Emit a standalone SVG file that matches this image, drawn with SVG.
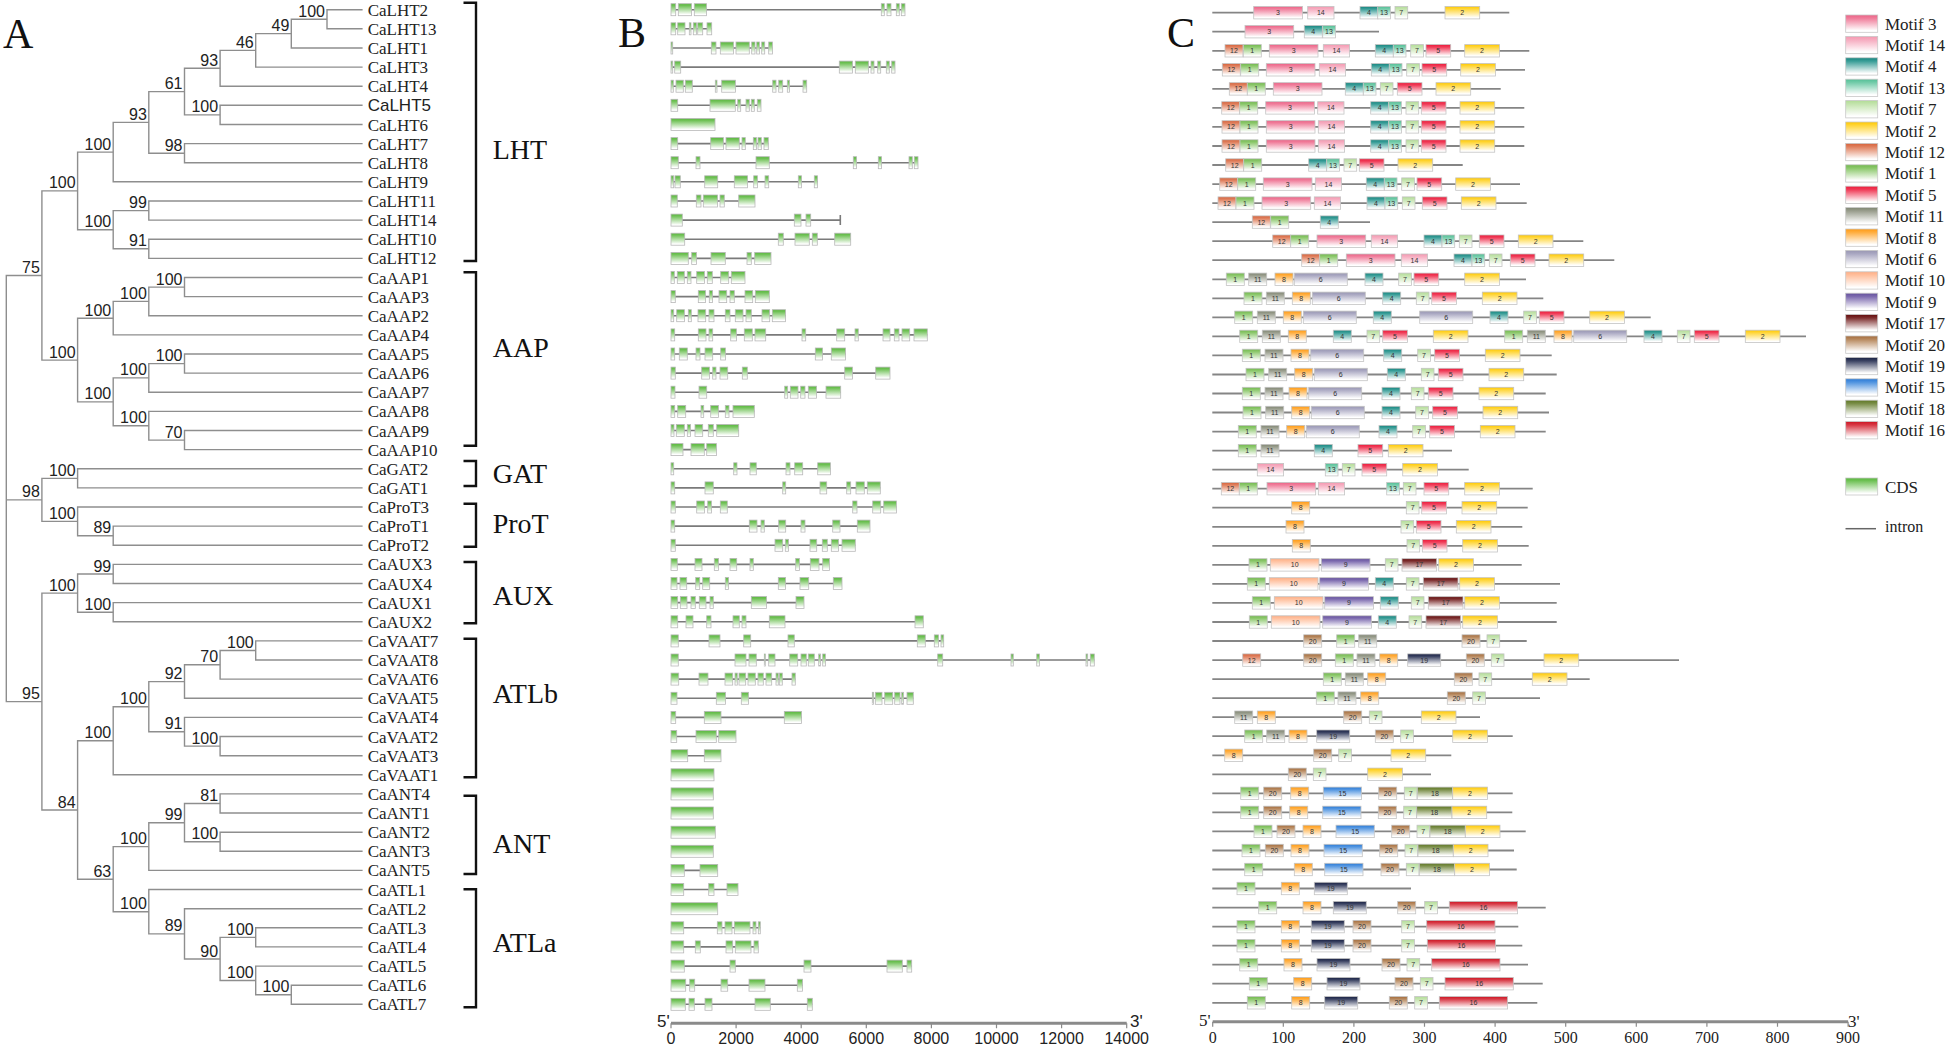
<svg xmlns="http://www.w3.org/2000/svg" width="1946" height="1048" viewBox="0 0 1946 1048">
<defs>
<linearGradient id="gCDS" x1="0" y1="0" x2="0" y2="1"><stop offset="0" stop-color="#5cb840"/><stop offset="0.15" stop-color="#6cc052"/><stop offset="0.9" stop-color="#fff"/></linearGradient>
<linearGradient id="g1" x1="0" y1="0" x2="0" y2="1"><stop offset="0" stop-color="#72b84e"/><stop offset="0.2" stop-color="#8cc86c"/><stop offset="0.9" stop-color="#fff"/></linearGradient>
<linearGradient id="g2" x1="0" y1="0" x2="0" y2="1"><stop offset="0" stop-color="#ffc800"/><stop offset="0.2" stop-color="#ffd63a"/><stop offset="0.9" stop-color="#fff"/></linearGradient>
<linearGradient id="g3" x1="0" y1="0" x2="0" y2="1"><stop offset="0" stop-color="#ec6286"/><stop offset="0.2" stop-color="#f07f9c"/><stop offset="0.9" stop-color="#fff"/></linearGradient>
<linearGradient id="g4" x1="0" y1="0" x2="0" y2="1"><stop offset="0" stop-color="#16857f"/><stop offset="0.2" stop-color="#3a9e98"/><stop offset="0.9" stop-color="#fff"/></linearGradient>
<linearGradient id="g5" x1="0" y1="0" x2="0" y2="1"><stop offset="0" stop-color="#ec1a3a"/><stop offset="0.2" stop-color="#f03c58"/><stop offset="0.9" stop-color="#fff"/></linearGradient>
<linearGradient id="g6" x1="0" y1="0" x2="0" y2="1"><stop offset="0" stop-color="#9896b2"/><stop offset="0.2" stop-color="#aaa8c2"/><stop offset="0.9" stop-color="#fff"/></linearGradient>
<linearGradient id="g7" x1="0" y1="0" x2="0" y2="1"><stop offset="0" stop-color="#b2dc96"/><stop offset="0.2" stop-color="#c4e4ae"/><stop offset="0.9" stop-color="#fff"/></linearGradient>
<linearGradient id="g8" x1="0" y1="0" x2="0" y2="1"><stop offset="0" stop-color="#ff9a12"/><stop offset="0.2" stop-color="#ffae40"/><stop offset="0.9" stop-color="#fff"/></linearGradient>
<linearGradient id="g9" x1="0" y1="0" x2="0" y2="1"><stop offset="0" stop-color="#64509c"/><stop offset="0.2" stop-color="#7e6cb0"/><stop offset="0.9" stop-color="#fff"/></linearGradient>
<linearGradient id="g10" x1="0" y1="0" x2="0" y2="1"><stop offset="0" stop-color="#ffae84"/><stop offset="0.2" stop-color="#ffc09e"/><stop offset="0.9" stop-color="#fff"/></linearGradient>
<linearGradient id="g11" x1="0" y1="0" x2="0" y2="1"><stop offset="0" stop-color="#808672"/><stop offset="0.2" stop-color="#9a9e8e"/><stop offset="0.9" stop-color="#fff"/></linearGradient>
<linearGradient id="g12" x1="0" y1="0" x2="0" y2="1"><stop offset="0" stop-color="#d6623a"/><stop offset="0.2" stop-color="#e0805e"/><stop offset="0.9" stop-color="#fff"/></linearGradient>
<linearGradient id="g13" x1="0" y1="0" x2="0" y2="1"><stop offset="0" stop-color="#52bf96"/><stop offset="0.2" stop-color="#74ccaa"/><stop offset="0.9" stop-color="#fff"/></linearGradient>
<linearGradient id="g14" x1="0" y1="0" x2="0" y2="1"><stop offset="0" stop-color="#f498b0"/><stop offset="0.2" stop-color="#f6acc0"/><stop offset="0.9" stop-color="#fff"/></linearGradient>
<linearGradient id="g15" x1="0" y1="0" x2="0" y2="1"><stop offset="0" stop-color="#2a7ad6"/><stop offset="0.2" stop-color="#5094e0"/><stop offset="0.9" stop-color="#fff"/></linearGradient>
<linearGradient id="g16" x1="0" y1="0" x2="0" y2="1"><stop offset="0" stop-color="#cc1422"/><stop offset="0.2" stop-color="#d83a46"/><stop offset="0.9" stop-color="#fff"/></linearGradient>
<linearGradient id="g17" x1="0" y1="0" x2="0" y2="1"><stop offset="0" stop-color="#620c0c"/><stop offset="0.2" stop-color="#7e3030"/><stop offset="0.9" stop-color="#fff"/></linearGradient>
<linearGradient id="g18" x1="0" y1="0" x2="0" y2="1"><stop offset="0" stop-color="#5e7624"/><stop offset="0.2" stop-color="#7a8e48"/><stop offset="0.9" stop-color="#fff"/></linearGradient>
<linearGradient id="g19" x1="0" y1="0" x2="0" y2="1"><stop offset="0" stop-color="#182042"/><stop offset="0.2" stop-color="#3a4262"/><stop offset="0.9" stop-color="#fff"/></linearGradient>
<linearGradient id="g20" x1="0" y1="0" x2="0" y2="1"><stop offset="0" stop-color="#a46c3c"/><stop offset="0.2" stop-color="#b88a60"/><stop offset="0.9" stop-color="#fff"/></linearGradient>
<style>
.tr{fill:none;stroke:#8e8e8e;stroke-width:1.4}
.bs{font-family:"Liberation Sans",Arial,sans-serif;font-size:16px;text-anchor:end;fill:#222}
.lf{font-family:"Liberation Serif","Times New Roman",serif;font-size:17px;fill:#222}
.lfs{font-family:"Liberation Sans",Arial,sans-serif;font-size:17px;fill:#222}
.cl{font-family:"Liberation Serif","Times New Roman",serif;font-size:28px;fill:#111}
.pl{font-family:"Liberation Serif","Times New Roman",serif;font-size:42px;fill:#111}
.br{fill:none;stroke:#111;stroke-width:2.4}
.in{fill:none;stroke:#7a7a7a;stroke-width:1.6}
.ex rect{y:-6px;height:12px;fill:url(#gCDS);stroke:#b8b8b8;stroke-width:.8}
.ln{fill:none;stroke:#858585;stroke-width:1.8}
.mt rect{y:-6.2px;height:12.4px;stroke:#c4c4c4;stroke-width:.8}
.mt text{font-family:"Liberation Sans",Arial,sans-serif;font-size:7px;text-anchor:middle;dominant-baseline:central;fill:#333}
.m1{width:18px;fill:url(#g1)}.m12{width:18px;fill:url(#g12)}.m11{width:18px;fill:url(#g11)}.m8{width:18px;fill:url(#g8)}.m4{width:18px;fill:url(#g4)}.m20{width:18px;fill:url(#g20)}
.m7{width:12.7px;fill:url(#g7)}.m13{width:12.7px;fill:url(#g13)}
.m3{width:48.7px;fill:url(#g3)}.m14{width:26.3px;fill:url(#g14)}.m5{width:24.7px;fill:url(#g5)}.m2{width:34.7px;fill:url(#g2)}
.m6{width:53px;fill:url(#g6)}.m10{width:48.7px;fill:url(#g10)}.m9{width:48.7px;fill:url(#g9)}.m17{width:34.7px;fill:url(#g17)}
.m19{width:33px;fill:url(#g19)}.m15{width:38.3px;fill:url(#g15)}.m18{width:35.3px;fill:url(#g18)}.m16{width:68.3px;fill:url(#g16)}
.ax{fill:none;stroke:#8a8a8a;stroke-width:3}
.tk{fill:none;stroke:#8a8a8a;stroke-width:1.2}
.axs{font-family:"Liberation Sans",Arial,sans-serif;font-size:16px;text-anchor:middle;fill:#222}
.axt{font-family:"Liberation Serif","Times New Roman",serif;font-size:16px;text-anchor:middle;fill:#222}
.lg{stroke:#c8c8c8;stroke-width:.8}
.lt{font-family:"Liberation Serif","Times New Roman",serif;font-size:17px;fill:#222}
</style>
</defs>
<rect width="1946" height="1048" fill="#fff"/>
<g id="panel-letters">
<text class="pl" x="3" y="48">A</text>
<text class="pl" x="618" y="47">B</text>
<text class="pl" x="1167" y="47">C</text>
</g>
<g id="connectors" class="tr">
<path d="M362.6 9.7H327V28.8H362.6"/>
<path d="M327 19.3H291.3V48H362.6"/>
<path d="M291.3 33.6H255.7V67.1H362.6"/>
<path d="M255.7 50.4H220.1V86.2H362.6"/>
<path d="M362.6 105.3H220.1V124.5H362.6"/>
<path d="M220.1 68.3H184.5V114.9H220.1"/>
<path d="M362.6 143.6H184.5V162.7H362.6"/>
<path d="M184.5 91.6H148.8V153.2H184.5"/>
<path d="M148.8 122.4H113.2V181.8H362.6"/>
<path d="M362.6 201H148.8V220.1H362.6"/>
<path d="M362.6 239.2H148.8V258.4H362.6"/>
<path d="M148.8 210.6H113.2V248.8H148.8"/>
<path d="M113.2 152.1H77.6V229.7H113.2"/>
<path d="M362.6 277.5H184.5V296.6H362.6"/>
<path d="M184.5 287.1H148.8V315.7H362.6"/>
<path d="M148.8 301.4H113.2V334.9H362.6"/>
<path d="M362.6 354H184.5V373.1H362.6"/>
<path d="M184.5 363.6H148.8V392.2H362.6"/>
<path d="M362.6 430.5H184.5V449.6H362.6"/>
<path d="M362.6 411.4H148.8V440.1H184.5"/>
<path d="M148.8 377.9H113.2V425.8H148.8"/>
<path d="M113.2 318.2H77.6V401.9H113.2"/>
<path d="M77.6 190.9H41.9V360.1H77.6"/>
<path d="M362.6 468.8H77.6V487.9H362.6"/>
<path d="M362.6 526.1H113.2V545.3H362.6"/>
<path d="M362.6 507H77.6V535.7H113.2"/>
<path d="M77.6 478.4H41.9V521.4H77.6"/>
<path d="M362.6 564.4H113.2V583.5H362.6"/>
<path d="M362.6 602.6H113.2V621.8H362.6"/>
<path d="M113.2 574H77.6V612.2H113.2"/>
<path d="M362.6 640.9H255.7V660H362.6"/>
<path d="M255.7 650.5H220.1V679.1H362.6"/>
<path d="M220.1 664.8H184.5V698.3H362.6"/>
<path d="M362.6 736.5H220.1V755.7H362.6"/>
<path d="M362.6 717.4H184.5V746.1H220.1"/>
<path d="M184.5 681.6H148.8V731.8H184.5"/>
<path d="M148.8 706.7H113.2V774.8H362.6"/>
<path d="M362.6 793.9H220.1V813H362.6"/>
<path d="M362.6 832.2H220.1V851.3H362.6"/>
<path d="M220.1 803.5H184.5V841.8H220.1"/>
<path d="M184.5 822.7H148.8V870.4H362.6"/>
<path d="M362.6 927.8H255.7V946.9H362.6"/>
<path d="M362.6 985.2H291.3V1004.3H362.6"/>
<path d="M362.6 966.1H255.7V994.8H291.3"/>
<path d="M255.7 937.4H220.1V980.5H255.7"/>
<path d="M362.6 908.7H184.5V959H220.1"/>
<path d="M362.6 889.5H148.8V933.9H184.5"/>
<path d="M148.8 846.6H113.2V911.7H148.8"/>
<path d="M113.2 740.8H77.6V879.2H113.2"/>
<path d="M77.6 593.1H41.9V810H77.6"/>
<path d="M41.9 275.5H6.3V701.6H41.9M6.3 499.9H41.9"/>
</g>
<g id="bootstrap" class="bs">
<text x="325" y="16.8">100</text><text x="289.3" y="31.1">49</text><text x="253.7" y="47.9">46</text><text x="218.1" y="65.8">93</text>
<text x="218.1" y="112.4">100</text><text x="182.5" y="89.1">61</text><text x="182.5" y="150.7">98</text><text x="146.8" y="119.9">93</text>
<text x="111.2" y="149.6">100</text><text x="146.8" y="208.1">99</text><text x="146.8" y="246.3">91</text><text x="111.2" y="227.2">100</text>
<text x="75.6" y="188.4">100</text><text x="182.5" y="284.6">100</text><text x="146.8" y="298.9">100</text><text x="111.2" y="315.7">100</text>
<text x="182.5" y="361.1">100</text><text x="146.8" y="375.4">100</text><text x="182.5" y="437.6">70</text><text x="146.8" y="423.3">100</text>
<text x="111.2" y="399.4">100</text><text x="75.6" y="357.6">100</text><text x="39.9" y="273">75</text><text x="75.6" y="475.9">100</text>
<text x="111.2" y="533.2">89</text><text x="75.6" y="518.9">100</text><text x="39.9" y="497.4">98</text><text x="111.2" y="571.5">99</text>
<text x="111.2" y="609.7">100</text><text x="75.6" y="590.6">100</text><text x="253.7" y="648">100</text><text x="218.1" y="662.3">70</text>
<text x="182.5" y="679.1">92</text><text x="218.1" y="743.6">100</text><text x="182.5" y="729.3">91</text><text x="146.8" y="704.2">100</text>
<text x="111.2" y="738.3">100</text><text x="218.1" y="801">81</text><text x="218.1" y="839.3">100</text><text x="182.5" y="820.2">99</text>
<text x="146.8" y="844.1">100</text><text x="253.7" y="934.9">100</text><text x="289.3" y="992.3">100</text><text x="253.7" y="978">100</text>
<text x="218.1" y="956.5">90</text><text x="182.5" y="931.4">89</text><text x="146.8" y="909.2">100</text><text x="111.2" y="876.7">63</text>
<text x="75.6" y="807.5">84</text><text x="39.9" y="699.1">95</text>
</g>
<g id="leaves" class="lf">
<text x="367.7" y="15.7">CaLHT2</text><text x="367.7" y="34.8">CaLHT13</text><text x="367.7" y="54">CaLHT1</text><text x="367.7" y="73.1">CaLHT3</text>
<text x="367.7" y="92.2">CaLHT4</text><text class="lfs" x="367.7" y="111.3">CaLHT5</text><text x="367.7" y="130.5">CaLHT6</text><text x="367.7" y="149.6">CaLHT7</text>
<text x="367.7" y="168.7">CaLHT8</text><text x="367.7" y="187.8">CaLHT9</text><text x="367.7" y="207">CaLHT11</text><text x="367.7" y="226.1">CaLHT14</text>
<text x="367.7" y="245.2">CaLHT10</text><text x="367.7" y="264.4">CaLHT12</text><text x="367.7" y="283.5">CaAAP1</text><text x="367.7" y="302.6">CaAAP3</text>
<text x="367.7" y="321.7">CaAAP2</text><text x="367.7" y="340.9">CaAAP4</text><text x="367.7" y="360">CaAAP5</text><text x="367.7" y="379.1">CaAAP6</text>
<text x="367.7" y="398.2">CaAAP7</text><text x="367.7" y="417.4">CaAAP8</text><text x="367.7" y="436.5">CaAAP9</text><text x="367.7" y="455.6">CaAAP10</text>
<text x="367.7" y="474.8">CaGAT2</text><text x="367.7" y="493.9">CaGAT1</text><text x="367.7" y="513">CaProT3</text><text x="367.7" y="532.1">CaProT1</text>
<text x="367.7" y="551.3">CaProT2</text><text x="367.7" y="570.4">CaAUX3</text><text x="367.7" y="589.5">CaAUX4</text><text x="367.7" y="608.6">CaAUX1</text>
<text x="367.7" y="627.8">CaAUX2</text><text x="367.7" y="646.9">CaVAAT7</text><text x="367.7" y="666">CaVAAT8</text><text x="367.7" y="685.1">CaVAAT6</text>
<text x="367.7" y="704.3">CaVAAT5</text><text x="367.7" y="723.4">CaVAAT4</text><text x="367.7" y="742.5">CaVAAT2</text><text x="367.7" y="761.7">CaVAAT3</text>
<text x="367.7" y="780.8">CaVAAT1</text><text x="367.7" y="799.9">CaANT4</text><text x="367.7" y="819">CaANT1</text><text x="367.7" y="838.2">CaANT2</text>
<text x="367.7" y="857.3">CaANT3</text><text x="367.7" y="876.4">CaANT5</text><text x="367.7" y="895.5">CaATL1</text><text x="367.7" y="914.7">CaATL2</text>
<text x="367.7" y="933.8">CaATL3</text><text x="367.7" y="952.9">CaATL4</text><text x="367.7" y="972.1">CaATL5</text><text x="367.7" y="991.2">CaATL6</text>
<text x="367.7" y="1010.3">CaATL7</text>
</g>
<g id="clades">
<path class="br" d="M463.5 2.7H476V261H463.5"/>
<path class="br" d="M463.5 272.3H476V445.7H463.5"/>
<path class="br" d="M463.5 461H476V486H463.5"/>
<path class="br" d="M463.5 503.7H476V546.7H463.5"/>
<path class="br" d="M463.5 562H476V623.3H463.5"/>
<path class="br" d="M463.5 638.7H476V777.3H463.5"/>
<path class="br" d="M463.5 795.7H476V874H463.5"/>
<path class="br" d="M463.5 889.3H476V1007.3H463.5"/>
<text class="cl" x="492.7" y="159.3">LHT</text>
<text class="cl" x="492.7" y="356.7">AAP</text>
<text class="cl" x="492.7" y="483.3">GAT</text>
<text class="cl" x="492.7" y="532.7">ProT</text>
<text class="cl" x="492.7" y="605">AUX</text>
<text class="cl" x="492.7" y="703">ATLb</text>
<text class="cl" x="492.7" y="853.3">ANT</text>
<text class="cl" x="492.7" y="951.7">ATLa</text>
</g>
<g id="panel-B" class="ex">
<g transform="translate(0,9.7)"><path class="in" d="M671 0H905"/><rect x="671" width="4.7"/><rect x="678.3" width="13.3"/><rect x="694.3" width="12.3"/><rect x="881.3" width="3"/><rect x="887" width="4"/><rect x="896.3" width="3"/><rect x="901.3" width="3.7"/></g>
<g transform="translate(0,28.8)"><path class="in" d="M671 0H711.7"/><rect x="671" width="4.7"/><rect x="677.7" width="7.3"/><rect x="689.3" width="1.7"/><rect x="693.3" width="3.3"/><rect x="697.7" width="5"/><rect x="707" width="4.7"/></g>
<g transform="translate(0,48)"><path class="in" d="M671 0H772.3"/><rect x="671" width="1.7"/><rect x="711.3" width="4.7"/><rect x="720.3" width="13.3"/><rect x="736" width="13.3"/><rect x="751.7" width="3.3"/><rect x="756.7" width="2.7"/><rect x="761.7" width="3"/><rect x="768.7" width="3.7"/></g>
<g transform="translate(0,67.1)"><path class="in" d="M671 0H895"/><rect x="671" width="1.7"/><rect x="674.7" width="6"/><rect x="839.3" width="13.3"/><rect x="855.3" width="13.3"/><rect x="871" width="3"/><rect x="877.7" width="3"/><rect x="886.3" width="3"/><rect x="891.7" width="3.3"/></g>
<g transform="translate(0,86.2)"><path class="in" d="M671 0H806.7"/><rect x="671" width="2.3"/><rect x="676" width="7.3"/><rect x="685.3" width="7"/><rect x="715.3" width="1.7"/><rect x="721.7" width="13.7"/><rect x="772.7" width="3.3"/><rect x="778.7" width="4"/><rect x="787.3" width="2.3"/><rect x="803" width="3.7"/></g>
<g transform="translate(0,105.3)"><path class="in" d="M671 0H761"/><rect x="671" width="6.7"/><rect x="710" width="25.3"/><rect x="737.7" width="3"/><rect x="746" width="3.3"/><rect x="751.3" width="3"/><rect x="757.3" width="3.7"/></g>
<g transform="translate(0,124.5)"><rect x="671" width="44"/></g>
<g transform="translate(0,143.6)"><path class="in" d="M671 0H768.3"/><rect x="671" width="6.7"/><rect x="710.7" width="12.7"/><rect x="726" width="13.3"/><rect x="742" width="3.3"/><rect x="753.3" width="3.3"/><rect x="758" width="3.3"/><rect x="764" width="4.3"/></g>
<g transform="translate(0,162.7)"><path class="in" d="M671 0H918"/><rect x="671" width="7.3"/><rect x="696" width="4"/><rect x="756" width="13.3"/><rect x="853.3" width="3.3"/><rect x="878.3" width="3.3"/><rect x="909" width="3.3"/><rect x="914.3" width="3.7"/></g>
<g transform="translate(0,181.8)"><path class="in" d="M671 0H817.7"/><rect x="671" width="2.7"/><rect x="675" width="5.3"/><rect x="704.7" width="13"/><rect x="734.3" width="13.3"/><rect x="753.7" width="3.7"/><rect x="765" width="3.7"/><rect x="798.3" width="3.3"/><rect x="814.3" width="3.3"/></g>
<g transform="translate(0,201)"><path class="in" d="M671 0H755"/><rect x="671" width="6.3"/><rect x="696.3" width="4.7"/><rect x="703.3" width="14.3"/><rect x="720" width="4.3"/><rect x="738.7" width="16.3"/></g>
<g transform="translate(0,220.1)"><path class="in" d="M671 0H840.3M840.3 -5V5"/><rect x="671" width="11.3"/><rect x="794.3" width="6.7"/><rect x="806" width="4.7"/></g>
<g transform="translate(0,239.2)"><path class="in" d="M671 0H850.7"/><rect x="671" width="13.7"/><rect x="778.3" width="5"/><rect x="795" width="14.3"/><rect x="812.3" width="5"/><rect x="834.7" width="16"/></g>
<g transform="translate(0,258.4)"><path class="in" d="M671 0H771"/><rect x="671" width="17.3"/><rect x="691.7" width="4.7"/><rect x="711" width="14.3"/><rect x="747" width="4.3"/><rect x="754.7" width="16.3"/></g>
<g transform="translate(0,277.5)"><path class="in" d="M671 0H745"/><rect x="671" width="3.3"/><rect x="677.3" width="7"/><rect x="687.3" width="3.7"/><rect x="696.7" width="7.7"/><rect x="707.3" width="5"/><rect x="720.7" width="8"/><rect x="731.3" width="13.7"/></g>
<g transform="translate(0,296.6)"><path class="in" d="M671 0H769.3"/><rect x="671" width="4.3"/><rect x="698.3" width="7.3"/><rect x="709.3" width="3.3"/><rect x="719" width="7.7"/><rect x="730" width="4.3"/><rect x="745" width="7.7"/><rect x="755.3" width="14"/></g>
<g transform="translate(0,315.7)"><path class="in" d="M671 0H785.7"/><rect x="671" width="2.7"/><rect x="676.7" width="7.7"/><rect x="688.3" width="3"/><rect x="698" width="7.7"/><rect x="709" width="5"/><rect x="725.3" width="4.7"/><rect x="735.3" width="7.7"/><rect x="746" width="5.3"/><rect x="762" width="7.7"/><rect x="772.3" width="13.3"/></g>
<g transform="translate(0,334.9)"><path class="in" d="M671 0H927.3"/><rect x="671" width="3.7"/><rect x="698.3" width="7.7"/><rect x="709" width="3.7"/><rect x="730.7" width="5.7"/><rect x="744.3" width="8"/><rect x="755" width="10.7"/><rect x="802" width="3.7"/><rect x="836.7" width="8"/><rect x="855" width="3.3"/><rect x="883" width="7"/><rect x="894.3" width="4.7"/><rect x="902" width="7.7"/><rect x="914" width="13.3"/></g>
<g transform="translate(0,354)"><path class="in" d="M671 0H845.7"/><rect x="671" width="3.7"/><rect x="679.3" width="8"/><rect x="696" width="4"/><rect x="705" width="7.7"/><rect x="720.7" width="4.7"/><rect x="815.3" width="7.3"/><rect x="831.3" width="14.3"/></g>
<g transform="translate(0,373.1)"><path class="in" d="M671 0H890"/><rect x="671" width="4.3"/><rect x="701.7" width="7.7"/><rect x="712.7" width="3.3"/><rect x="720" width="7.7"/><rect x="742.3" width="5"/><rect x="844.7" width="7.7"/><rect x="875.7" width="14.3"/></g>
<g transform="translate(0,392.2)"><path class="in" d="M671 0H840.7"/><rect x="671" width="4"/><rect x="699" width="7.7"/><rect x="784.7" width="3"/><rect x="790.3" width="7.7"/><rect x="800.7" width="4.3"/><rect x="808.3" width="8.3"/><rect x="826" width="14.7"/></g>
<g transform="translate(0,411.4)"><path class="in" d="M671 0H754.3"/><rect x="671" width="3.7"/><rect x="677.7" width="8"/><rect x="701" width="2.7"/><rect x="710.7" width="7.7"/><rect x="725.3" width="3.7"/><rect x="733" width="21.3"/></g>
<g transform="translate(0,430.5)"><path class="in" d="M671 0H738.7"/><rect x="671" width="3"/><rect x="676.3" width="8"/><rect x="687.3" width="3.3"/><rect x="695" width="7.7"/><rect x="708.3" width="5"/><rect x="716.7" width="22"/></g>
<g transform="translate(0,449.6)"><path class="in" d="M671 0H716.3"/><rect x="671" width="12"/><rect x="691" width="13.3"/><rect x="706.7" width="9.7"/></g>
<g transform="translate(0,468.8)"><path class="in" d="M671 0H830.3"/><rect x="671" width="2.7"/><rect x="733.7" width="3.3"/><rect x="750" width="6.3"/><rect x="786" width="4"/><rect x="794.7" width="8"/><rect x="817.7" width="12.7"/></g>
<g transform="translate(0,487.9)"><path class="in" d="M671 0H880.3"/><rect x="671" width="3.7"/><rect x="705" width="8.3"/><rect x="782.7" width="3"/><rect x="820" width="6.7"/><rect x="846.7" width="4"/><rect x="856" width="8.3"/><rect x="867.3" width="13"/></g>
<g transform="translate(0,507)"><path class="in" d="M671 0H896.3"/><rect x="671" width="4.3"/><rect x="696.7" width="7.7"/><rect x="707.7" width="3.7"/><rect x="720.3" width="7"/><rect x="852.7" width="4.3"/><rect x="872.7" width="8"/><rect x="883.7" width="12.7"/></g>
<g transform="translate(0,526.1)"><path class="in" d="M671 0H870"/><rect x="671" width="3.7"/><rect x="749.3" width="7.7"/><rect x="761" width="3.3"/><rect x="778.7" width="7"/><rect x="801" width="4"/><rect x="832.7" width="7.3"/><rect x="857.3" width="12.7"/></g>
<g transform="translate(0,545.3)"><path class="in" d="M671 0H855.3"/><rect x="671" width="4.3"/><rect x="775" width="7.7"/><rect x="785.3" width="3.3"/><rect x="810" width="6.7"/><rect x="822.3" width="5"/><rect x="831.3" width="7.3"/><rect x="842" width="13.3"/></g>
<g transform="translate(0,564.4)"><path class="in" d="M671 0H829.3"/><rect x="671" width="6.3"/><rect x="695" width="7"/><rect x="714.3" width="4.3"/><rect x="730" width="6.7"/><rect x="750" width="3.3"/><rect x="795.7" width="3.7"/><rect x="810.3" width="8.7"/><rect x="822.7" width="6.7"/></g>
<g transform="translate(0,583.5)"><path class="in" d="M671 0H842"/><rect x="671" width="6"/><rect x="680" width="6.7"/><rect x="695.7" width="4"/><rect x="702.7" width="7"/><rect x="725.3" width="3.3"/><rect x="778.3" width="7.3"/><rect x="800" width="8.7"/><rect x="833.3" width="8.7"/></g>
<g transform="translate(0,602.6)"><path class="in" d="M671 0H804"/><rect x="671" width="6.7"/><rect x="680.3" width="6.7"/><rect x="691" width="4.3"/><rect x="699.3" width="6.7"/><rect x="710" width="3.3"/><rect x="751.3" width="15.3"/><rect x="796" width="8"/></g>
<g transform="translate(0,621.8)"><path class="in" d="M671 0H923.3"/><rect x="671" width="6.7"/><rect x="686" width="7"/><rect x="706.7" width="4.3"/><rect x="733" width="6.3"/><rect x="742" width="4"/><rect x="769.3" width="15.7"/><rect x="915" width="8.3"/></g>
<g transform="translate(0,640.9)"><path class="in" d="M671 0H943.7"/><rect x="671" width="7.3"/><rect x="709" width="11"/><rect x="743.7" width="7"/><rect x="788" width="6.3"/><rect x="917.3" width="8"/><rect x="934.3" width="4.3"/><rect x="941" width="2.7"/></g>
<g transform="translate(0,660)"><path class="in" d="M671 0H1094.3"/><rect x="671" width="7.3"/><rect x="735" width="11"/><rect x="749" width="7.3"/><rect x="764.3" width="1"/><rect x="768.7" width="6.3"/><rect x="789.7" width="8"/><rect x="801" width="5.3"/><rect x="808.3" width="6"/><rect x="818.7" width="1.7"/><rect x="822.7" width="2.7"/><rect x="937.7" width="5"/><rect x="1011" width="2.3"/><rect x="1036.7" width="2.7"/><rect x="1086" width="1.7"/><rect x="1090.3" width="4"/></g>
<g transform="translate(0,679.1)"><path class="in" d="M671 0H795.3"/><rect x="671" width="7.7"/><rect x="699" width="9"/><rect x="725" width="7.7"/><rect x="735" width="2.3"/><rect x="739" width="6.7"/><rect x="748" width="7.3"/><rect x="758" width="5.3"/><rect x="766" width="5.7"/><rect x="776" width="2.3"/><rect x="779.3" width="3"/><rect x="792" width="3.3"/></g>
<g transform="translate(0,698.3)"><path class="in" d="M671 0H913.3"/><rect x="671" width="6"/><rect x="716.3" width="9.3"/><rect x="741.3" width="7.3"/><rect x="872.3" width="1.3"/><rect x="875.3" width="6.7"/><rect x="884.7" width="8"/><rect x="894.7" width="5.3"/><rect x="901.7" width="1.7"/><rect x="907" width="6.3"/></g>
<g transform="translate(0,717.4)"><path class="in" d="M671 0H801.7"/><rect x="671" width="4.7"/><rect x="704.3" width="16.7"/><rect x="784.3" width="17.3"/></g>
<g transform="translate(0,736.5)"><path class="in" d="M671 0H736"/><rect x="671" width="5.7"/><rect x="696" width="20.3"/><rect x="718.7" width="17.3"/></g>
<g transform="translate(0,755.7)"><path class="in" d="M671 0H721"/><rect x="671" width="16.7"/><rect x="704.3" width="16.7"/></g>
<g transform="translate(0,774.8)"><rect x="671" width="43"/></g>
<g transform="translate(0,793.9)"><rect x="671" width="42.3"/></g>
<g transform="translate(0,813)"><rect x="671" width="42.3"/></g>
<g transform="translate(0,832.2)"><rect x="671" width="44.3"/></g>
<g transform="translate(0,851.3)"><rect x="671" width="42.3"/></g>
<g transform="translate(0,870.4)"><path class="in" d="M671 0H717.7"/><rect x="671" width="13.3"/><rect x="700" width="17.7"/></g>
<g transform="translate(0,889.5)"><path class="in" d="M671 0H738"/><rect x="671" width="12.7"/><rect x="708.7" width="5.3"/><rect x="727" width="11"/></g>
<g transform="translate(0,908.7)"><rect x="671" width="46.7"/></g>
<g transform="translate(0,927.8)"><path class="in" d="M671 0H760.3"/><rect x="671" width="12.7"/><rect x="717.3" width="4.7"/><rect x="725" width="7"/><rect x="734.3" width="15.7"/><rect x="753" width="3"/><rect x="758.3" width="2"/></g>
<g transform="translate(0,946.9)"><path class="in" d="M671 0H758.3"/><rect x="671" width="12.7"/><rect x="695.3" width="5"/><rect x="726" width="6.7"/><rect x="735.3" width="15.7"/><rect x="754" width="4.3"/></g>
<g transform="translate(0,966.1)"><path class="in" d="M671 0H911.7"/><rect x="671" width="13.3"/><rect x="730" width="5.3"/><rect x="804" width="7"/><rect x="887" width="15.3"/><rect x="907" width="4.7"/></g>
<g transform="translate(0,985.2)"><path class="in" d="M671 0H802.7"/><rect x="671" width="14.7"/><rect x="689.7" width="5"/><rect x="721" width="6.7"/><rect x="749" width="16"/><rect x="797.3" width="5.3"/></g>
<g transform="translate(0,1004.3)"><path class="in" d="M671 0H812.3"/><rect x="671" width="14.3"/><rect x="689" width="5.3"/><rect x="705" width="7"/><rect x="755" width="15.3"/><rect x="807.3" width="5"/></g>
</g>
<g id="axis-B">
<path class="ax" d="M671 1023.3H1126.7"/>
<path class="tk" d="M671 1023.3v5M736.1 1023.3v5M801.2 1023.3v5M866.3 1023.3v5M931.4 1023.3v5M996.5 1023.3v5M1061.6 1023.3v5M1126.7 1023.3v5"/>
<g class="axs"><text x="671" y="1044">0</text><text x="736.1" y="1044">2000</text><text x="801.2" y="1044">4000</text><text x="866.3" y="1044">6000</text><text x="931.4" y="1044">8000</text><text x="996.5" y="1044">10000</text><text x="1061.6" y="1044">12000</text><text x="1126.7" y="1044">14000</text></g>
<text x="657" y="1027" font-family="Liberation Sans, Arial, sans-serif" font-size="17" fill="#222">5'</text>
<text x="1130" y="1027" font-family="Liberation Sans, Arial, sans-serif" font-size="17" fill="#222">3'</text>
</g>
<g id="panel-C" class="mt">
<g transform="translate(0,12.7)"><path class="ln" d="M1212.3 0H1509.3"/><rect class="m3" x="1253.7"/><text x="1278">3</text><rect class="m14" x="1307.7"/><text x="1320.8">14</text><rect class="m4" x="1360"/><text x="1369">4</text><rect class="m13" x="1377.7"/><text x="1384">13</text><rect class="m7" x="1395"/><text x="1401.3">7</text><rect class="m2" x="1445"/><text x="1462.3">2</text></g>
<g transform="translate(0,31.7)"><path class="ln" d="M1212.3 0H1379"/><rect class="m3" x="1245"/><text x="1269.3">3</text><rect class="m4" x="1304.3"/><text x="1313.3">4</text><rect class="m13" x="1322.7"/><text x="1329">13</text></g>
<g transform="translate(0,50.8)"><path class="ln" d="M1212.3 0H1529.3"/><rect class="m12" x="1225"/><text x="1234">12</text><rect class="m1" x="1243.3"/><text x="1252.3">1</text><rect class="m3" x="1269.3"/><text x="1293.7">3</text><rect class="m14" x="1323.3"/><text x="1336.5">14</text><rect class="m4" x="1375.3"/><text x="1384.3">4</text><rect class="m13" x="1393.3"/><text x="1399.7">13</text><rect class="m7" x="1410.7"/><text x="1417">7</text><rect class="m5" x="1426"/><text x="1438.3">5</text><rect class="m2" x="1464.7"/><text x="1482">2</text></g>
<g transform="translate(0,69.8)"><path class="ln" d="M1212.3 0H1525"/><rect class="m12" x="1222.3"/><text x="1231.3">12</text><rect class="m1" x="1240.7"/><text x="1249.7">1</text><rect class="m3" x="1266.3"/><text x="1290.7">3</text><rect class="m14" x="1319.3"/><text x="1332.5">14</text><rect class="m4" x="1371.3"/><text x="1380.3">4</text><rect class="m13" x="1389.3"/><text x="1395.7">13</text><rect class="m7" x="1406.7"/><text x="1413">7</text><rect class="m5" x="1422"/><text x="1434.3">5</text><rect class="m2" x="1460.7"/><text x="1478">2</text></g>
<g transform="translate(0,88.9)"><path class="ln" d="M1212.3 0H1500.7"/><rect class="m12" x="1229.3"/><text x="1238.3">12</text><rect class="m1" x="1247.3"/><text x="1256.3">1</text><rect class="m3" x="1273.3"/><text x="1297.7">3</text><rect class="m4" x="1345.3"/><text x="1354.3">4</text><rect class="m13" x="1363.3"/><text x="1369.7">13</text><rect class="m7" x="1380.3"/><text x="1386.7">7</text><rect class="m5" x="1397.3"/><text x="1409.7">5</text><rect class="m2" x="1436"/><text x="1453.3">2</text></g>
<g transform="translate(0,107.9)"><path class="ln" d="M1212.3 0H1524.3"/><rect class="m12" x="1221.7"/><text x="1230.7">12</text><rect class="m1" x="1239.7"/><text x="1248.7">1</text><rect class="m3" x="1265.7"/><text x="1290">3</text><rect class="m14" x="1317.7"/><text x="1330.8">14</text><rect class="m4" x="1370.7"/><text x="1379.7">4</text><rect class="m13" x="1388.7"/><text x="1395">13</text><rect class="m7" x="1406"/><text x="1412.3">7</text><rect class="m5" x="1421.3"/><text x="1433.7">5</text><rect class="m2" x="1460"/><text x="1477.3">2</text></g>
<g transform="translate(0,126.9)"><path class="ln" d="M1212.3 0H1524.3"/><rect class="m12" x="1222"/><text x="1231">12</text><rect class="m1" x="1240"/><text x="1249">1</text><rect class="m3" x="1266.3"/><text x="1290.7">3</text><rect class="m14" x="1318.3"/><text x="1331.5">14</text><rect class="m4" x="1370.7"/><text x="1379.7">4</text><rect class="m13" x="1388.7"/><text x="1395">13</text><rect class="m7" x="1406"/><text x="1412.3">7</text><rect class="m5" x="1421.3"/><text x="1433.7">5</text><rect class="m2" x="1460"/><text x="1477.3">2</text></g>
<g transform="translate(0,146)"><path class="ln" d="M1212.3 0H1524.3"/><rect class="m12" x="1222"/><text x="1231">12</text><rect class="m1" x="1240"/><text x="1249">1</text><rect class="m3" x="1266.3"/><text x="1290.7">3</text><rect class="m14" x="1318.3"/><text x="1331.5">14</text><rect class="m4" x="1370.7"/><text x="1379.7">4</text><rect class="m13" x="1388.7"/><text x="1395">13</text><rect class="m7" x="1406"/><text x="1412.3">7</text><rect class="m5" x="1421.3"/><text x="1433.7">5</text><rect class="m2" x="1460"/><text x="1477.3">2</text></g>
<g transform="translate(0,165)"><path class="ln" d="M1212.3 0H1462.7"/><rect class="m12" x="1225.7"/><text x="1234.7">12</text><rect class="m1" x="1243.7"/><text x="1252.7">1</text><rect class="m4" x="1308.7"/><text x="1317.7">4</text><rect class="m13" x="1326.7"/><text x="1333">13</text><rect class="m7" x="1344"/><text x="1350.3">7</text><rect class="m5" x="1359.3"/><text x="1371.7">5</text><rect class="m2" x="1398"/><text x="1415.3">2</text></g>
<g transform="translate(0,184.1)"><path class="ln" d="M1212.3 0H1520"/><rect class="m12" x="1219.7"/><text x="1228.7">12</text><rect class="m1" x="1237.7"/><text x="1246.7">1</text><rect class="m3" x="1263.3"/><text x="1287.7">3</text><rect class="m14" x="1315.3"/><text x="1328.5">14</text><rect class="m4" x="1366.3"/><text x="1375.3">4</text><rect class="m13" x="1384.3"/><text x="1390.7">13</text><rect class="m7" x="1401.7"/><text x="1408">7</text><rect class="m5" x="1417"/><text x="1429.3">5</text><rect class="m2" x="1455.7"/><text x="1473">2</text></g>
<g transform="translate(0,203.1)"><path class="ln" d="M1212.3 0H1526.7"/><rect class="m12" x="1218"/><text x="1227">12</text><rect class="m1" x="1236"/><text x="1245">1</text><rect class="m3" x="1262"/><text x="1286.3">3</text><rect class="m14" x="1314.3"/><text x="1327.5">14</text><rect class="m4" x="1367"/><text x="1376">4</text><rect class="m13" x="1385"/><text x="1391.3">13</text><rect class="m7" x="1402.3"/><text x="1408.7">7</text><rect class="m5" x="1422.3"/><text x="1434.7">5</text><rect class="m2" x="1461.3"/><text x="1478.7">2</text></g>
<g transform="translate(0,222.1)"><path class="ln" d="M1212.3 0H1370"/><rect class="m12" x="1252.3"/><text x="1261.3">12</text><rect class="m1" x="1270.7"/><text x="1279.7">1</text><rect class="m4" x="1320.3"/><text x="1329.3">4</text></g>
<g transform="translate(0,241.2)"><path class="ln" d="M1212.3 0H1583.3"/><rect class="m12" x="1272.7"/><text x="1281.7">12</text><rect class="m1" x="1290.7"/><text x="1299.7">1</text><rect class="m3" x="1317"/><text x="1341.3">3</text><rect class="m14" x="1371.3"/><text x="1384.5">14</text><rect class="m4" x="1424"/><text x="1433">4</text><rect class="m13" x="1442"/><text x="1448.3">13</text><rect class="m7" x="1459.3"/><text x="1465.7">7</text><rect class="m5" x="1479.3"/><text x="1491.7">5</text><rect class="m2" x="1518.3"/><text x="1535.7">2</text></g>
<g transform="translate(0,260.2)"><path class="ln" d="M1212.3 0H1614.3"/><rect class="m12" x="1301.7"/><text x="1310.7">12</text><rect class="m1" x="1319.7"/><text x="1328.7">1</text><rect class="m3" x="1346.3"/><text x="1370.7">3</text><rect class="m14" x="1401.3"/><text x="1414.5">14</text><rect class="m4" x="1454"/><text x="1463">4</text><rect class="m13" x="1472"/><text x="1478.3">13</text><rect class="m7" x="1489.3"/><text x="1495.7">7</text><rect class="m5" x="1510.3"/><text x="1522.7">5</text><rect class="m2" x="1549"/><text x="1566.3">2</text></g>
<g transform="translate(0,279.3)"><path class="ln" d="M1212.3 0H1526"/><rect class="m1" x="1226.3"/><text x="1235.3">1</text><rect class="m11" x="1248.7"/><text x="1257.7">11</text><rect class="m8" x="1275"/><text x="1284">8</text><rect class="m6" x="1294.3"/><text x="1320.8">6</text><rect class="m4" x="1365"/><text x="1374">4</text><rect class="m7" x="1398.7"/><text x="1405">7</text><rect class="m5" x="1414"/><text x="1426.3">5</text><rect class="m2" x="1464.7"/><text x="1482">2</text></g>
<g transform="translate(0,298.3)"><path class="ln" d="M1212.3 0H1543.3"/><rect class="m1" x="1244"/><text x="1253">1</text><rect class="m11" x="1266.3"/><text x="1275.3">11</text><rect class="m8" x="1292.3"/><text x="1301.3">8</text><rect class="m6" x="1312.3"/><text x="1338.8">6</text><rect class="m4" x="1382.7"/><text x="1391.7">4</text><rect class="m7" x="1416.3"/><text x="1422.7">7</text><rect class="m5" x="1431.7"/><text x="1444">5</text><rect class="m2" x="1482.3"/><text x="1499.7">2</text></g>
<g transform="translate(0,317.3)"><path class="ln" d="M1212.3 0H1650.7"/><rect class="m1" x="1234.7"/><text x="1243.7">1</text><rect class="m11" x="1257.3"/><text x="1266.3">11</text><rect class="m8" x="1283.3"/><text x="1292.3">8</text><rect class="m6" x="1303.3"/><text x="1329.8">6</text><rect class="m4" x="1373.3"/><text x="1382.3">4</text><rect class="m6" x="1419.7"/><text x="1446.2">6</text><rect class="m4" x="1490"/><text x="1499">4</text><rect class="m7" x="1523.7"/><text x="1530">7</text><rect class="m5" x="1539.3"/><text x="1551.7">5</text><rect class="m2" x="1589.7"/><text x="1607">2</text></g>
<g transform="translate(0,336.4)"><path class="ln" d="M1212.3 0H1806"/><rect class="m1" x="1239.7"/><text x="1248.7">1</text><rect class="m11" x="1262.3"/><text x="1271.3">11</text><rect class="m8" x="1288.3"/><text x="1297.3">8</text><rect class="m4" x="1333.3"/><text x="1342.3">4</text><rect class="m7" x="1367"/><text x="1373.3">7</text><rect class="m5" x="1382.7"/><text x="1395">5</text><rect class="m2" x="1433.3"/><text x="1450.7">2</text><rect class="m1" x="1504.7"/><text x="1513.7">1</text><rect class="m11" x="1527.3"/><text x="1536.3">11</text><rect class="m8" x="1554"/><text x="1563">8</text><rect class="m6" x="1573.7"/><text x="1600.2">6</text><rect class="m4" x="1644"/><text x="1653">4</text><rect class="m7" x="1677.3"/><text x="1683.7">7</text><rect class="m5" x="1694.3"/><text x="1706.7">5</text><rect class="m2" x="1745.3"/><text x="1762.7">2</text></g>
<g transform="translate(0,355.4)"><path class="ln" d="M1212.3 0H1551.7"/><rect class="m1" x="1242.3"/><text x="1251.3">1</text><rect class="m11" x="1265"/><text x="1274">11</text><rect class="m8" x="1291"/><text x="1300">8</text><rect class="m6" x="1310.7"/><text x="1337.2">6</text><rect class="m4" x="1383.7"/><text x="1392.7">4</text><rect class="m7" x="1417.7"/><text x="1424">7</text><rect class="m5" x="1434.7"/><text x="1447">5</text><rect class="m2" x="1485.3"/><text x="1502.7">2</text></g>
<g transform="translate(0,374.5)"><path class="ln" d="M1212.3 0H1556.7"/><rect class="m1" x="1246"/><text x="1255">1</text><rect class="m11" x="1268.7"/><text x="1277.7">11</text><rect class="m8" x="1294.7"/><text x="1303.7">8</text><rect class="m6" x="1314.3"/><text x="1340.8">6</text><rect class="m4" x="1387.3"/><text x="1396.3">4</text><rect class="m7" x="1421.3"/><text x="1427.7">7</text><rect class="m5" x="1438.3"/><text x="1450.7">5</text><rect class="m2" x="1489"/><text x="1506.3">2</text></g>
<g transform="translate(0,393.5)"><path class="ln" d="M1212.3 0H1545.7"/><rect class="m1" x="1242.3"/><text x="1251.3">1</text><rect class="m11" x="1265"/><text x="1274">11</text><rect class="m8" x="1289"/><text x="1298">8</text><rect class="m6" x="1308.7"/><text x="1335.2">6</text><rect class="m4" x="1382"/><text x="1391">4</text><rect class="m7" x="1411.3"/><text x="1417.7">7</text><rect class="m5" x="1428.3"/><text x="1440.7">5</text><rect class="m2" x="1479"/><text x="1496.3">2</text></g>
<g transform="translate(0,412.5)"><path class="ln" d="M1212.3 0H1549"/><rect class="m1" x="1243"/><text x="1252">1</text><rect class="m11" x="1265.7"/><text x="1274.7">11</text><rect class="m8" x="1291.7"/><text x="1300.7">8</text><rect class="m6" x="1311.3"/><text x="1337.8">6</text><rect class="m4" x="1382"/><text x="1391">4</text><rect class="m7" x="1415.7"/><text x="1422">7</text><rect class="m5" x="1432.7"/><text x="1445">5</text><rect class="m2" x="1483"/><text x="1500.3">2</text></g>
<g transform="translate(0,431.6)"><path class="ln" d="M1212.3 0H1545.7"/><rect class="m1" x="1238.3"/><text x="1247.3">1</text><rect class="m11" x="1261"/><text x="1270">11</text><rect class="m8" x="1286.7"/><text x="1295.7">8</text><rect class="m6" x="1306.3"/><text x="1332.8">6</text><rect class="m4" x="1379"/><text x="1388">4</text><rect class="m7" x="1412.7"/><text x="1419">7</text><rect class="m5" x="1429.7"/><text x="1442">5</text><rect class="m2" x="1480.3"/><text x="1497.7">2</text></g>
<g transform="translate(0,450.6)"><path class="ln" d="M1212.3 0H1452"/><rect class="m1" x="1238.3"/><text x="1247.3">1</text><rect class="m11" x="1261"/><text x="1270">11</text><rect class="m4" x="1314.3"/><text x="1323.3">4</text><rect class="m5" x="1358"/><text x="1370.3">5</text><rect class="m2" x="1388.3"/><text x="1405.7">2</text></g>
<g transform="translate(0,469.7)"><path class="ln" d="M1212.3 0H1468.7"/><rect class="m14" x="1257.3"/><text x="1270.5">14</text><rect class="m13" x="1325.3"/><text x="1331.7">13</text><rect class="m7" x="1342.3"/><text x="1348.7">7</text><rect class="m5" x="1362"/><text x="1374.3">5</text><rect class="m2" x="1402.7"/><text x="1420">2</text></g>
<g transform="translate(0,488.7)"><path class="ln" d="M1212.3 0H1532.7"/><rect class="m12" x="1221.3"/><text x="1230.3">12</text><rect class="m1" x="1239.3"/><text x="1248.3">1</text><rect class="m3" x="1267"/><text x="1291.3">3</text><rect class="m14" x="1318.3"/><text x="1331.5">14</text><rect class="m13" x="1386.7"/><text x="1393">13</text><rect class="m7" x="1403.3"/><text x="1409.7">7</text><rect class="m5" x="1424"/><text x="1436.3">5</text><rect class="m2" x="1464.7"/><text x="1482">2</text></g>
<g transform="translate(0,507.7)"><path class="ln" d="M1212.3 0H1527.7"/><rect class="m8" x="1291.7"/><text x="1300.7">8</text><rect class="m7" x="1406.3"/><text x="1412.7">7</text><rect class="m5" x="1421.7"/><text x="1434">5</text><rect class="m2" x="1462"/><text x="1479.3">2</text></g>
<g transform="translate(0,526.8)"><path class="ln" d="M1212.3 0H1522.3"/><rect class="m8" x="1286"/><text x="1295">8</text><rect class="m7" x="1401"/><text x="1407.3">7</text><rect class="m5" x="1416.3"/><text x="1428.7">5</text><rect class="m2" x="1456.3"/><text x="1473.7">2</text></g>
<g transform="translate(0,545.8)"><path class="ln" d="M1212.3 0H1528.7"/><rect class="m8" x="1292.3"/><text x="1301.3">8</text><rect class="m7" x="1407"/><text x="1413.3">7</text><rect class="m5" x="1422.3"/><text x="1434.7">5</text><rect class="m2" x="1462.7"/><text x="1480">2</text></g>
<g transform="translate(0,564.9)"><path class="ln" d="M1212.3 0H1521.7"/><rect class="m1" x="1249"/><text x="1258">1</text><rect class="m10" x="1270.3"/><text x="1294.7">10</text><rect class="m9" x="1321.3"/><text x="1345.7">9</text><rect class="m7" x="1385.3"/><text x="1391.7">7</text><rect class="m17" x="1402"/><text x="1419.3">17</text><rect class="m2" x="1438.7"/><text x="1456">2</text></g>
<g transform="translate(0,583.9)"><path class="ln" d="M1212.3 0H1560"/><rect class="m1" x="1247.3"/><text x="1256.3">1</text><rect class="m10" x="1269.3"/><text x="1293.7">10</text><rect class="m9" x="1319.7"/><text x="1344">9</text><rect class="m4" x="1375.3"/><text x="1384.3">4</text><rect class="m7" x="1406.3"/><text x="1412.7">7</text><rect class="m17" x="1423.3"/><text x="1440.7">17</text><rect class="m2" x="1459.7"/><text x="1477">2</text></g>
<g transform="translate(0,602.9)"><path class="ln" d="M1212.3 0H1556.7"/><rect class="m1" x="1252.3"/><text x="1261.3">1</text><rect class="m10" x="1274.3"/><text x="1298.7">10</text><rect class="m9" x="1324.7"/><text x="1349">9</text><rect class="m4" x="1380.3"/><text x="1389.3">4</text><rect class="m7" x="1411.3"/><text x="1417.7">7</text><rect class="m17" x="1428.3"/><text x="1445.7">17</text><rect class="m2" x="1464.7"/><text x="1482">2</text></g>
<g transform="translate(0,622)"><path class="ln" d="M1212.3 0H1556.7"/><rect class="m1" x="1249.3"/><text x="1258.3">1</text><rect class="m10" x="1271.3"/><text x="1295.7">10</text><rect class="m9" x="1322.7"/><text x="1347">9</text><rect class="m4" x="1378.3"/><text x="1387.3">4</text><rect class="m7" x="1409"/><text x="1415.3">7</text><rect class="m17" x="1426"/><text x="1443.3">17</text><rect class="m2" x="1462.7"/><text x="1480">2</text></g>
<g transform="translate(0,641)"><path class="ln" d="M1212.3 0H1526.7"/><rect class="m20" x="1303.7"/><text x="1312.7">20</text><rect class="m1" x="1336.7"/><text x="1345.7">1</text><rect class="m11" x="1358.7"/><text x="1367.7">11</text><rect class="m20" x="1462"/><text x="1471">20</text><rect class="m7" x="1487"/><text x="1493.3">7</text></g>
<g transform="translate(0,660.1)"><path class="ln" d="M1212.3 0H1679"/><rect class="m12" x="1242.7"/><text x="1251.7">12</text><rect class="m20" x="1303.7"/><text x="1312.7">20</text><rect class="m1" x="1335.3"/><text x="1344.3">1</text><rect class="m11" x="1357"/><text x="1366">11</text><rect class="m8" x="1379.7"/><text x="1388.7">8</text><rect class="m19" x="1407.7"/><text x="1424.2" fill="#eee">19</text><rect class="m20" x="1466.3"/><text x="1475.3">20</text><rect class="m7" x="1491.3"/><text x="1497.7">7</text><rect class="m2" x="1544"/><text x="1561.3">2</text></g>
<g transform="translate(0,679.1)"><path class="ln" d="M1212.3 0H1589.7"/><rect class="m1" x="1323.3"/><text x="1332.3">1</text><rect class="m11" x="1345.3"/><text x="1354.3">11</text><rect class="m8" x="1367.7"/><text x="1376.7">8</text><rect class="m20" x="1454.3"/><text x="1463.3">20</text><rect class="m7" x="1479"/><text x="1485.3">7</text><rect class="m2" x="1532.3"/><text x="1549.7">2</text></g>
<g transform="translate(0,698.1)"><path class="ln" d="M1212.3 0H1540"/><rect class="m1" x="1316.3"/><text x="1325.3">1</text><rect class="m11" x="1338"/><text x="1347">11</text><rect class="m8" x="1360.7"/><text x="1369.7">8</text><rect class="m20" x="1447.3"/><text x="1456.3">20</text><rect class="m7" x="1472.7"/><text x="1479">7</text></g>
<g transform="translate(0,717.2)"><path class="ln" d="M1212.3 0H1480"/><rect class="m11" x="1234.7"/><text x="1243.7">11</text><rect class="m8" x="1257.3"/><text x="1266.3">8</text><rect class="m20" x="1343.7"/><text x="1352.7">20</text><rect class="m7" x="1369.3"/><text x="1375.7">7</text><rect class="m2" x="1421.3"/><text x="1438.7">2</text></g>
<g transform="translate(0,736.2)"><path class="ln" d="M1212.3 0H1512.7"/><rect class="m1" x="1244.7"/><text x="1253.7">1</text><rect class="m11" x="1266.7"/><text x="1275.7">11</text><rect class="m8" x="1289"/><text x="1298">8</text><rect class="m19" x="1316.7"/><text x="1333.2" fill="#eee">19</text><rect class="m20" x="1375.3"/><text x="1384.3">20</text><rect class="m7" x="1400.7"/><text x="1407">7</text><rect class="m2" x="1452.7"/><text x="1470">2</text></g>
<g transform="translate(0,755.3)"><path class="ln" d="M1212.3 0H1451.3"/><rect class="m8" x="1224.7"/><text x="1233.7">8</text><rect class="m20" x="1313.7"/><text x="1322.7">20</text><rect class="m7" x="1338.7"/><text x="1345">7</text><rect class="m2" x="1391"/><text x="1408.3">2</text></g>
<g transform="translate(0,774.3)"><path class="ln" d="M1212.3 0H1431"/><rect class="m20" x="1288.3"/><text x="1297.3">20</text><rect class="m7" x="1313.3"/><text x="1319.7">7</text><rect class="m2" x="1367.7"/><text x="1385">2</text></g>
<g transform="translate(0,793.3)"><path class="ln" d="M1212.3 0H1512.7"/><rect class="m1" x="1240.7"/><text x="1249.7">1</text><rect class="m20" x="1263.7"/><text x="1272.7">20</text><rect class="m8" x="1290.7"/><text x="1299.7">8</text><rect class="m15" x="1323.3"/><text x="1342.5">15</text><rect class="m20" x="1378.7"/><text x="1387.7">20</text><rect class="m7" x="1404.3"/><text x="1410.7">7</text><rect class="m18" x="1417.3"/><text x="1435">18</text><rect class="m2" x="1452.7"/><text x="1470">2</text></g>
<g transform="translate(0,812.4)"><path class="ln" d="M1212.3 0H1512.3"/><rect class="m1" x="1240.7"/><text x="1249.7">1</text><rect class="m20" x="1263.7"/><text x="1272.7">20</text><rect class="m8" x="1289.7"/><text x="1298.7">8</text><rect class="m15" x="1322.7"/><text x="1341.8">15</text><rect class="m20" x="1378.3"/><text x="1387.3">20</text><rect class="m7" x="1403.7"/><text x="1410">7</text><rect class="m18" x="1416.7"/><text x="1434.3">18</text><rect class="m2" x="1452"/><text x="1469.3">2</text></g>
<g transform="translate(0,831.4)"><path class="ln" d="M1212.3 0H1525.7"/><rect class="m1" x="1254"/><text x="1263">1</text><rect class="m20" x="1277"/><text x="1286">20</text><rect class="m8" x="1303"/><text x="1312">8</text><rect class="m15" x="1336"/><text x="1355.2">15</text><rect class="m20" x="1391.7"/><text x="1400.7">20</text><rect class="m7" x="1417"/><text x="1423.3">7</text><rect class="m18" x="1430"/><text x="1447.7">18</text><rect class="m2" x="1465.3"/><text x="1482.7">2</text></g>
<g transform="translate(0,850.5)"><path class="ln" d="M1212.3 0H1514"/><rect class="m1" x="1242"/><text x="1251">1</text><rect class="m20" x="1265.3"/><text x="1274.3">20</text><rect class="m8" x="1291"/><text x="1300">8</text><rect class="m15" x="1324"/><text x="1343.2">15</text><rect class="m20" x="1379.7"/><text x="1388.7">20</text><rect class="m7" x="1405"/><text x="1411.3">7</text><rect class="m18" x="1418"/><text x="1435.7">18</text><rect class="m2" x="1453.3"/><text x="1470.7">2</text></g>
<g transform="translate(0,869.5)"><path class="ln" d="M1212.3 0H1516.7"/><rect class="m1" x="1244.7"/><text x="1253.7">1</text><rect class="m8" x="1294.3"/><text x="1303.3">8</text><rect class="m15" x="1324.7"/><text x="1343.8">15</text><rect class="m20" x="1381"/><text x="1390">20</text><rect class="m7" x="1406.3"/><text x="1412.7">7</text><rect class="m18" x="1419.3"/><text x="1437">18</text><rect class="m2" x="1454.7"/><text x="1472">2</text></g>
<g transform="translate(0,888.5)"><path class="ln" d="M1212.3 0H1411"/><rect class="m1" x="1237"/><text x="1246">1</text><rect class="m8" x="1281.3"/><text x="1290.3">8</text><rect class="m19" x="1314.3"/><text x="1330.8" fill="#eee">19</text></g>
<g transform="translate(0,907.6)"><path class="ln" d="M1212.3 0H1545.7"/><rect class="m1" x="1258.7"/><text x="1267.7">1</text><rect class="m8" x="1303"/><text x="1312">8</text><rect class="m19" x="1333.3"/><text x="1349.8" fill="#eee">19</text><rect class="m20" x="1397.7"/><text x="1406.7">20</text><rect class="m7" x="1424.7"/><text x="1431">7</text><rect class="m16" x="1449.3"/><text x="1483.5">16</text></g>
<g transform="translate(0,926.6)"><path class="ln" d="M1212.3 0H1518.3"/><rect class="m1" x="1237"/><text x="1246">1</text><rect class="m8" x="1281.3"/><text x="1290.3">8</text><rect class="m19" x="1311.3"/><text x="1327.8" fill="#eee">19</text><rect class="m20" x="1353"/><text x="1362">20</text><rect class="m7" x="1401.7"/><text x="1408">7</text><rect class="m16" x="1426.7"/><text x="1460.8">16</text></g>
<g transform="translate(0,945.7)"><path class="ln" d="M1212.3 0H1522.3"/><rect class="m1" x="1237"/><text x="1246">1</text><rect class="m8" x="1281.3"/><text x="1290.3">8</text><rect class="m19" x="1311.3"/><text x="1327.8" fill="#eee">19</text><rect class="m20" x="1353"/><text x="1362">20</text><rect class="m7" x="1401.7"/><text x="1408">7</text><rect class="m16" x="1427.3"/><text x="1461.5">16</text></g>
<g transform="translate(0,964.7)"><path class="ln" d="M1212.3 0H1528"/><rect class="m1" x="1239.7"/><text x="1248.7">1</text><rect class="m8" x="1284"/><text x="1293">8</text><rect class="m19" x="1317"/><text x="1333.5" fill="#eee">19</text><rect class="m20" x="1382"/><text x="1391">20</text><rect class="m7" x="1407"/><text x="1413.3">7</text><rect class="m16" x="1431.7"/><text x="1465.8">16</text></g>
<g transform="translate(0,983.7)"><path class="ln" d="M1212.3 0H1542.7"/><rect class="m1" x="1249.3"/><text x="1258.3">1</text><rect class="m8" x="1293.7"/><text x="1302.7">8</text><rect class="m19" x="1327"/><text x="1343.5" fill="#eee">19</text><rect class="m20" x="1395"/><text x="1404">20</text><rect class="m7" x="1420.3"/><text x="1426.7">7</text><rect class="m16" x="1445"/><text x="1479.2">16</text></g>
<g transform="translate(0,1002.8)"><path class="ln" d="M1212.3 0H1537.3"/><rect class="m1" x="1247.3"/><text x="1256.3">1</text><rect class="m8" x="1291.7"/><text x="1300.7">8</text><rect class="m19" x="1324.7"/><text x="1341.2" fill="#eee">19</text><rect class="m20" x="1389.3"/><text x="1398.3">20</text><rect class="m7" x="1414.7"/><text x="1421">7</text><rect class="m16" x="1439.3"/><text x="1473.5">16</text></g>
</g>
<g id="axis-C">
<path class="ax" d="M1212.7 1021.7H1848.1"/>
<path class="tk" d="M1212.7 1021.7v5M1283.3 1021.7v5M1353.9 1021.7v5M1424.5 1021.7v5M1495.1 1021.7v5M1565.7 1021.7v5M1636.3 1021.7v5M1706.9 1021.7v5M1777.5 1021.7v5M1848.1 1021.7v5"/>
<g class="axt"><text x="1212.7" y="1043">0</text><text x="1283.3" y="1043">100</text><text x="1353.9" y="1043">200</text><text x="1424.5" y="1043">300</text><text x="1495.1" y="1043">400</text><text x="1565.7" y="1043">500</text><text x="1636.3" y="1043">600</text><text x="1706.9" y="1043">700</text><text x="1777.5" y="1043">800</text><text x="1848.1" y="1043">900</text></g>
<text x="1199" y="1026" font-family="Liberation Serif, Times New Roman, serif" font-size="17" fill="#222">5'</text>
<text x="1848" y="1027" font-family="Liberation Serif, Times New Roman, serif" font-size="17" fill="#222">3'</text>
</g>
<g id="legend">
<g class="lg">
<rect x="1845.7" y="15" width="32" height="17.3" fill="url(#g3)"/>
<rect x="1845.7" y="36.4" width="32" height="17.3" fill="url(#g14)"/>
<rect x="1845.7" y="57.8" width="32" height="17.3" fill="url(#g4)"/>
<rect x="1845.7" y="79.2" width="32" height="17.3" fill="url(#g13)"/>
<rect x="1845.7" y="100.6" width="32" height="17.3" fill="url(#g7)"/>
<rect x="1845.7" y="122" width="32" height="17.3" fill="url(#g2)"/>
<rect x="1845.7" y="143.4" width="32" height="17.3" fill="url(#g12)"/>
<rect x="1845.7" y="164.8" width="32" height="17.3" fill="url(#g1)"/>
<rect x="1845.7" y="186.2" width="32" height="17.3" fill="url(#g5)"/>
<rect x="1845.7" y="207.6" width="32" height="17.3" fill="url(#g11)"/>
<rect x="1845.7" y="229" width="32" height="17.3" fill="url(#g8)"/>
<rect x="1845.7" y="250.4" width="32" height="17.3" fill="url(#g6)"/>
<rect x="1845.7" y="271.8" width="32" height="17.3" fill="url(#g10)"/>
<rect x="1845.7" y="293.2" width="32" height="17.3" fill="url(#g9)"/>
<rect x="1845.7" y="314.6" width="32" height="17.3" fill="url(#g17)"/>
<rect x="1845.7" y="336" width="32" height="17.3" fill="url(#g20)"/>
<rect x="1845.7" y="357.4" width="32" height="17.3" fill="url(#g19)"/>
<rect x="1845.7" y="378.8" width="32" height="17.3" fill="url(#g15)"/>
<rect x="1845.7" y="400.2" width="32" height="17.3" fill="url(#g18)"/>
<rect x="1845.7" y="421.6" width="32" height="17.3" fill="url(#g16)"/>
<rect x="1845.7" y="478" width="32" height="17" fill="url(#gCDS)"/>
</g>
<g class="lt">
<text x="1885" y="29.5">Motif 3</text><text x="1885" y="50.9">Motif 14</text><text x="1885" y="72.3">Motif 4</text><text x="1885" y="93.7">Motif 13</text>
<text x="1885" y="115.1">Motif 7</text><text x="1885" y="136.5">Motif 2</text><text x="1885" y="157.9">Motif 12</text><text x="1885" y="179.3">Motif 1</text>
<text x="1885" y="200.7">Motif 5</text><text x="1885" y="222.1">Motif 11</text><text x="1885" y="243.5">Motif 8</text><text x="1885" y="264.9">Motif 6</text>
<text x="1885" y="286.3">Motif 10</text><text x="1885" y="307.7">Motif 9</text><text x="1885" y="329.1">Motif 17</text><text x="1885" y="350.5">Motif 20</text>
<text x="1885" y="371.9">Motif 19</text><text x="1885" y="393.3">Motif 15</text><text x="1885" y="414.7">Motif 18</text><text x="1885" y="436.1">Motif 16</text>
<text x="1885" y="492.5">CDS</text>
<text x="1885" y="532" font-size="16">intron</text>
</g>
<path d="M1845.5 528.7H1876" stroke="#666" stroke-width="1.5"/>
</g>
</svg>
